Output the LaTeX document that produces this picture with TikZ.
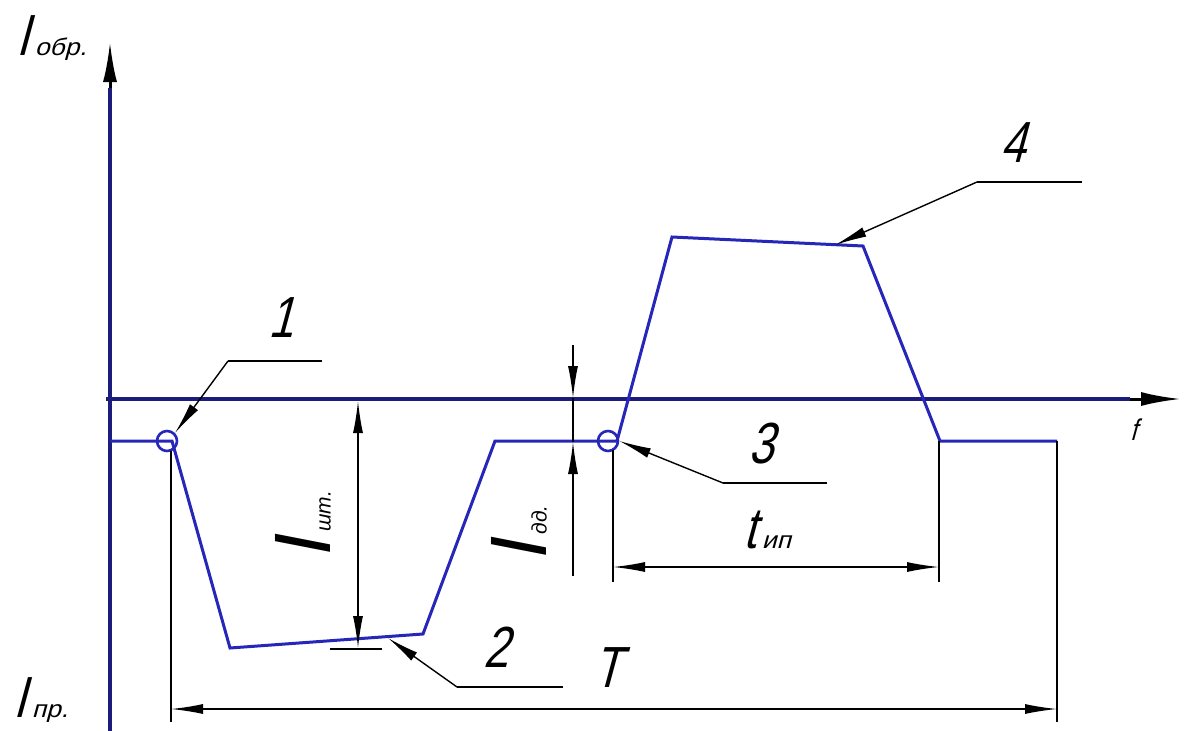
\documentclass[tikz,border=0pt]{standalone}
\usepackage{fontspec}
\setmainfont{Liberation Sans}
\newfontfamily\gost[FakeSlant=0.27,FakeStretch=0.78]{Liberation Sans}
\newfontfamily\gostsub[FakeSlant=0.27,FakeStretch=1.1]{Liberation Sans}
\newfontfamily\gostr{Liberation Sans}
\usetikzlibrary{arrows.meta}
\definecolor{axisblue}{RGB}{28,28,125}
\definecolor{sigblue}{RGB}{38,38,185}
\tikzset{
  axisline/.style={axisblue, line width=3.5pt},
  sig/.style={sigblue, line width=3pt, line join=miter},
  dimline/.style={black, line width=1.4pt},
  darr/.style={dimline, -{Latex[length=32pt,width=10pt]}},
  axarr/.style={black, line width=3pt, -{Latex[length=40pt,width=14pt]}},
  markc/.style={circle, draw=sigblue, line width=2.6pt, minimum size=20pt, inner sep=0pt},
  lbl/.style={inner sep=0pt, anchor=base west, font=\gost\fontsize{58}{58}\selectfont},
  biglbl/.style={inner sep=0pt, anchor=south east, font=\gostr\itshape\fontsize{80}{80}\selectfont},
}
\newcommand{\subtxt}[1]{\kern6pt{\gostsub\fontsize{24}{24}\selectfont #1}}
\newcommand{\rsubtxt}[1]{\kern2pt{\fontsize{21}{21}\selectfont #1}}
\begin{document}
\begin{tikzpicture}[x=1pt,y=-1pt]
\useasboundingbox (0,0) rectangle (1184,731);
\fill[white] (0,0) rectangle (1184,731);

% axes
\coordinate (yb) at (110,731);
\coordinate (ya) at (110,88);
\coordinate (yt) at (110,42);
\coordinate (xl) at (106,399);
\coordinate (xa) at (1130,399);
\coordinate (xt) at (1181,399);
\draw[axisline] (yb) -- (ya);
\draw[axarr] (ya) -- (yt);
\draw[axisline] (xl) -- (xa);
\draw[axarr] (xa) -- (xt);

% signal
\coordinate (s0) at (110,441);
\coordinate (s1) at (172,441);
\coordinate (s2) at (230,648);
\coordinate (s3) at (423,634);
\coordinate (s4) at (495,441);
\coordinate (s5) at (617,441);
\coordinate (s6) at (672,237);
\coordinate (s7) at (863,246);
\coordinate (s8) at (940,441);
\coordinate (s9) at (1057,441);
\draw[sig] (s0) -- (s1) -- (s2) -- (s3) -- (s4) -- (s5) -- (s6) -- (s7) -- (s8) -- (s9);

% marker circles
\node[markc] (c1) at (167,441) {};
\node[markc] (c3) at (608,441) {};

% extension lines
\coordinate (e1a) at (171,451);
\coordinate (e1b) at (171,722);
\coordinate (e2a) at (1057,441);
\coordinate (e2b) at (1057,722);
\coordinate (e3a) at (613,450);
\coordinate (e3b) at (613,582);
\coordinate (e4a) at (939,441);
\coordinate (e4b) at (939,582);
\coordinate (e5a) at (330,649);
\coordinate (e5b) at (382,649);
\draw[dimline] (e1a) -- (e1b);
\draw[dimline] (e2a) -- (e2b);
\draw[dimline] (e3a) -- (e3b);
\draw[dimline] (e4a) -- (e4b);
\draw[dimline] (e5a) -- (e5b);

% dimension T
\coordinate (T0) at (171,709);
\coordinate (T1) at (1057,709);
\coordinate (Tm) at (614,709);
\draw[darr] (Tm) -- (T0);
\draw[darr] (Tm) -- (T1);
\node[lbl] (Tl) at (593,687) {T};

% dimension t_ip
\coordinate (t0) at (613,567);
\coordinate (t1) at (939,567);
\coordinate (tm) at (776,567);
\draw[darr] (tm) -- (t0);
\draw[darr] (tm) -- (t1);
\node[lbl] (tl) at (743,548) {t\subtxt{ип}};

% dimension I_sht
\coordinate (a0) at (358,401);
\coordinate (a1) at (358,648);
\coordinate (am) at (358,525);
\draw[darr] (am) -- (a0);
\draw[darr] (am) -- (a1);
\node[biglbl] (al) at (331,556) {\rotatebox{90}{I\rsubtxt{шт.}}};

% dimension I_dd
\coordinate (b0) at (573,345);
\coordinate (b1) at (573,398);
\coordinate (b2) at (573,576);
\coordinate (b3) at (573,442);
\draw[darr] (b0) -- (b1);
\draw[darr] (b2) -- (b3);
\draw[dimline] (b1) -- (b3);
\node[biglbl] (bl) at (547,559) {\rotatebox{90}{I\rsubtxt{дд.}}};

% leaders
\coordinate (L1a) at (322,361);
\coordinate (L1b) at (228,361);
\draw[dimline] (L1a) -- (L1b);
\draw[darr] (L1b) -- (c1.north east);
\node[lbl] (n1) at (268,337) {1};

\coordinate (L2a) at (563,687);
\coordinate (L2b) at (457,687);
\coordinate (L2t) at (388,638);
\draw[dimline] (L2a) -- (L2b);
\draw[darr] (L2b) -- (L2t);
\node[lbl] (n2) at (483,667) {2};

\coordinate (L3a) at (827,483);
\coordinate (L3b) at (723,483);
\draw[dimline] (L3a) -- (L3b);
\draw[darr] (L3b) -- (c3.east);
\node[lbl] (n3) at (748,463) {3};

\coordinate (L4a) at (1082,182);
\coordinate (L4b) at (977,182);
\coordinate (L4t) at (835,245);
\draw[dimline] (L4a) -- (L4b);
\draw[darr] (L4b) -- (L4t);
\node[lbl] (n4) at (1000,162) {4};

% axis labels
\node[lbl] (Iobr) at (16,55) {I\subtxt{обр.}};
\node[lbl] (Ipr) at (13,717) {I\subtxt{пр.}};
\node[inner sep=0pt, anchor=base west, font=\gost\fontsize{30}{30}\selectfont] (fl) at (1130,440) {f};
\end{tikzpicture}
\end{document}
